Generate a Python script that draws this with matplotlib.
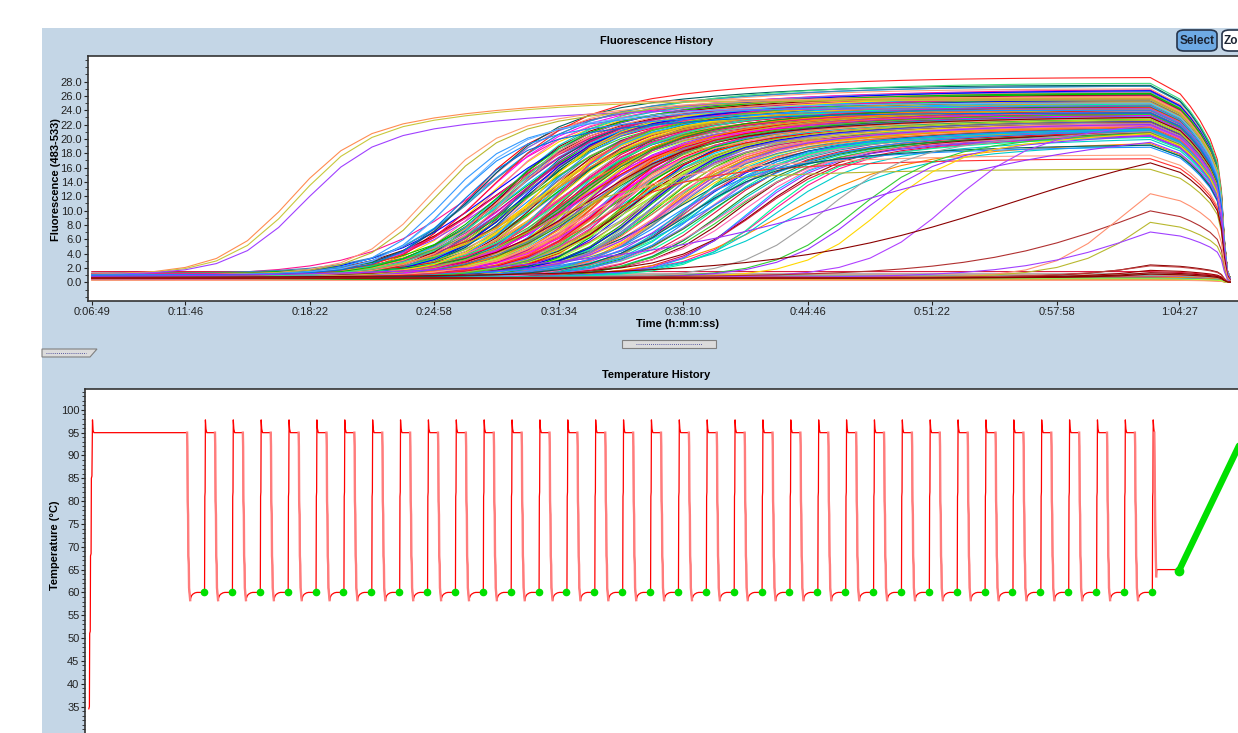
import numpy as np
import matplotlib.pyplot as plt
from matplotlib.patches import Rectangle, FancyBboxPatch, Polygon
from matplotlib.ticker import MultipleLocator, FormatStrFormatter

plt.rcParams['font.family'] = ['Liberation Sans', 'DejaVu Sans']

W, H = 1238, 733

# ---- acquisition timing (seconds) ----
n_cycles = 35
first_read = 409      # cycle 1 acquisition, 0:06:49
cycle_len = 99
tick_labels = ['0:06:49', '0:11:46', '0:18:22', '0:24:58', '0:31:34',
               '0:38:10', '0:44:46', '0:51:22', '0:57:58', '1:04:27']
melt_times = [3870, 3902, 3933, 3965, 3988, 4001, 4010, 4020, 4029]
melt_factor = [0.92, 0.86, 0.79, 0.70, 0.60, 0.45, 0.22, 0.06, 0.02]

# ---- fluorescence wells: midpoint cycle / plateau ----
early_mid = [7.4, 7.6, 7.8, 11.8, 12.0, 12.3, 12.5, 12.6, 12.8]
early_plateau = [24.6, 24.4, 23.2, 24.8, 24.6, 23.6, 23.0, 24.0, 22.6]
early_color = ['#FF8C50', '#C8C83C', '#A040FF', '#FF9A70', '#B8B82E',
               '#3399FF', '#1E90FF', '#66B2FF', '#0070E0']

mid_cycle = [
    13.1, 14.6, 16.2, 15.0, 17.8, 13.7, 19.4, 16.8, 14.2, 18.3,
    15.5, 17.1, 13.4, 20.2, 16.0, 14.9, 18.8, 15.7, 21.0, 17.4,
    14.4, 16.5, 13.9, 19.1, 15.2, 17.9, 16.3, 20.7, 14.7, 18.0,
    15.9, 13.6, 17.3, 19.8, 16.7, 14.1, 21.6, 15.4, 18.6, 16.1,
    17.6, 14.8, 19.6, 15.1, 13.3, 16.9, 18.4, 22.3, 15.6, 17.0,
    14.3, 20.5, 16.4, 18.9, 15.8, 13.8, 17.5, 19.2, 16.6, 14.5,
    21.3, 15.3, 18.1, 16.8, 14.0, 19.9, 17.2, 15.0, 22.8, 16.2,
    18.5, 14.6, 17.7, 20.9, 15.7, 16.0, 13.5, 19.0, 17.9, 15.2,
    16.4, 18.7, 14.9, 21.9, 17.1, 15.5, 20.1, 16.9, 14.2, 18.2,
    23.2, 16.6, 15.4, 19.5, 17.4, 14.8, 18.0, 16.3, 20.4, 15.9,
    17.0, 13.2, 19.3, 15.6, 22.0, 16.5, 18.6, 14.4, 17.8, 21.2,
    15.8, 19.7, 16.1, 14.7, 18.4, 17.3, 23.6, 15.1, 16.8, 20.0,
    14.1, 17.6, 19.0, 15.3, 16.2, 21.5, 18.8, 14.9, 17.5, 16.7,
    22.6, 15.7, 18.3, 16.9, 14.6, 19.6, 17.2, 20.8, 15.4, 16.0,
    18.1, 16.4, 13.9, 17.7, 20.3, 15.9, 19.4, 16.6, 22.4, 17.0,
    15.3, 17.9, 14.0, 18.9, 16.3, 19.8, 15.0, 17.4, 20.6, 16.1,
    14.5, 18.5, 16.9, 13.6, 19.2, 17.1, 15.6, 21.4, 16.7, 18.0,
    14.8, 17.6, 19.9, 15.4, 16.5, 22.1, 18.2, 14.3, 17.3, 20.5,
    16.0, 15.1, 18.7, 13.4, 17.8, 19.0, 16.2, 21.0, 15.8, 18.4,
    14.7, 17.0, 20.2, 16.6, 15.5, 19.3, 17.5, 14.1, 18.8, 16.4,
    22.9, 15.2, 17.2, 19.6, 16.8, 14.4, 18.1, 20.8, 15.9, 17.7]
plateau = [
    25.6, 24.1, 22.8, 24.9, 21.7, 25.2, 20.9, 23.3, 24.6, 22.0,
    24.0, 23.5, 26.1, 21.3, 23.9, 25.0, 22.4, 24.4, 20.6, 22.9,
    25.3, 22.6, 24.8, 21.9, 24.2, 23.0, 23.7, 20.4, 23.6, 22.2,
    23.8, 25.8, 22.5, 21.0, 23.1, 24.7, 19.8, 24.5, 21.5, 22.7,
    23.4, 24.3, 21.2, 25.1, 26.4, 22.1, 22.9, 20.2, 23.9, 23.2,
    24.9, 20.8, 23.6, 21.6, 22.3, 25.5, 23.0, 21.8, 24.1, 24.3,
    20.5, 23.8, 22.0, 22.6, 25.9, 20.1, 22.7, 24.0, 19.6, 23.5,
    21.4, 25.0, 22.2, 20.7, 24.6, 23.3, 26.6, 21.1, 22.8, 24.4,
    23.7, 21.9, 24.2, 19.9, 22.4, 23.1, 21.0, 22.5, 25.4, 21.7,
    19.5, 23.9, 24.5, 20.9, 22.1, 25.2, 22.6, 23.4, 20.3, 24.8,
    22.7, 26.0, 21.3, 24.0, 20.0, 23.6, 21.2, 25.7, 22.3, 20.6,
    24.7, 21.5, 23.0, 25.3, 22.9, 21.8, 19.4, 24.1, 23.2, 20.8,
    25.5, 22.5, 21.4, 24.3, 23.8, 20.2, 22.0, 24.9, 21.6, 23.5,
    19.7, 24.2, 22.2, 23.3, 25.1, 21.1, 22.8, 20.4, 19.8, 24.6,
    21.9, 23.7, 26.3, 22.4, 20.5, 24.4, 21.3, 23.1, 20.0, 22.6,
    24.2, 22.5, 25.4, 21.8, 23.6, 21.2, 24.8, 22.9, 20.5, 23.8,
    25.1, 22.1, 23.4, 26.2, 21.5, 23.0, 24.5, 20.3, 23.2, 22.4,
    24.7, 22.8, 20.8, 24.0, 23.7, 19.9, 22.0, 25.6, 23.1, 21.0,
    24.3, 25.0, 21.7, 26.5, 22.6, 21.9, 24.1, 20.6, 23.9, 22.2,
    25.3, 23.3, 20.9, 23.5, 24.6, 21.4, 22.7, 25.8, 21.6, 23.0,
    19.6, 24.9, 23.8, 21.1, 22.5, 25.2, 22.3, 20.7, 24.4, 22.9]
slope_set = [1.15, 1.3, 1.45, 1.25, 1.6, 1.35, 1.2, 1.5, 1.4, 1.7, 1.3, 1.55, 1.8]
baseline_set = [0.5, 0.8, 0.6, 1.0, 0.4, 0.7, 0.9, 0.55, 1.1, 0.65, 0.75, 0.45,
                0.85, 1.2, 0.6]

# wells with a standout plateau (top red, light green, low olive/salmon ...)
accent_mid = [13.8, 14.5, 15.2, 16.5, 17.0, 19.5, 20.0]
accent_plateau = [27.9, 27.1, 15.1, 17.1, 16.6, 18.3, 18.6]
accent_color = ['#FF2020', '#40E080', '#B8B82E', '#FFA080', '#FF3030',
                '#1E90FF', '#006060']

# late / slow wells
late_mid = [24.5, 25.5, 25.7, 26.3, 28.5, 25.5, 30.5, 35.0, 34.0, 35.2, 35.0,
            38.0, 38.5, 39.0, 37.8, 39.5]
late_plateau = [21.0, 21.0, 20.6, 21.0, 23.0, 22.0, 22.0, 20.0, 19.0, 19.0, 14.0,
                14.0, 12.0, 13.0, 10.0, 16.0]
late_slope = [1.3, 1.3, 1.3, 1.2, 1.3, 4.0, 3.5, 2.7, 1.1, 1.3, 2.0,
              1.6, 1.5, 1.4, 1.8, 1.3]
late_color = ['#A0A0A0', '#33CC33', '#9B30FF', '#FFD700', '#B040FF', '#9B30FF',
              '#8B0000', '#B03030', '#FF9070', '#B8B82E', '#A040FF',
              '#8B0000', '#A00000', '#8B0000', '#C04040', '#8B0000']

flat_levels = [0.35, 0.45, 0.5, 0.55, 0.6, 0.62, 0.7, 0.75, 0.8, 0.85, 0.9, 0.95,
               1.0, 1.05, 1.2, 1.5, 0.4, 0.65, 0.72, 0.58, 0.3, 0.5]

palette = ['#FF0000', '#00C000', '#0000FF', '#FF00FF', '#00CCCC', '#FFD700',
           '#FF8C00', '#9B30FF', '#8B0000', '#FF8C69', '#B8B82E', '#1E90FF',
           '#FF1493', '#32CD32', '#A0A0A0', '#006060', '#FFA07A', '#7B68EE',
           '#00FA9A', '#DC143C', '#00BFFF', '#ADFF2F', '#C71585', '#4682B4',
           '#FF6347', '#228B22', '#DAA520', '#FF69B4']

# ---- temperature profile ----
init_t = [0, 2, 3, 5, 6, 8, 9, 11, 13, 15, 18, 349]
init_temp = [34.5, 35, 51, 51.5, 68, 68.5, 85, 85.5, 97.8, 95.5, 95, 95]
cool_dt = [-60, -59, -58, -56.5, -55.5, -54, -53, -49]
cool_temp = [95, 92, 80, 77, 68, 66, 61, 58.3]
anneal_dt = [-49, -47, -44, -40, -32, -25, 0]
anneal_temp = [58.3, 58.8, 59.3, 59.6, 59.9, 60, 60]
heat_dt = [0, 2, 3, 4, 5, 7, 10, 39]
heat_temp = [60, 60.5, 81, 82, 97.8, 95.8, 95, 95]
final_dt = [0, 2, 3, 4, 5, 7, 9]
final_temp = [60, 60.5, 81, 82, 97.8, 96, 95]
final_cool_dt = [9, 10, 12, 14, 16]
final_cool_temp = [95, 88, 76, 68, 63.5]
final_hold_dt = [16, 18, 96]
final_hold_temp = [63.5, 65, 65]
ramp_t = [3871, 4110]
ramp_temp = [64.7, 95.4]


def amp_curve(c, mid, plat, slope, base):
    fast = 1 / (1 + np.exp(-(c - mid) / slope))
    slow = 1 / (1 + np.exp(-(c - mid - 5) / (2.5 * slope)))
    return base + plat * (0.82 * fast + 0.18 * slow)


fig = plt.figure(figsize=(W / 100, H / 100), dpi=100)
fig.patches.append(Rectangle((42 / W, 0), 1, 1 - 28 / H, transform=fig.transFigure,
                             facecolor='#C4D6E6', edgecolor='none', zorder=-5))

# ================= Fluorescence History =================
ax1 = fig.add_axes([87.7 / W, 1 - 301 / H, (1245 - 87.7) / W, (301 - 55.7) / H])
cycles = np.arange(1, n_cycles + 1)
read_times = first_read + cycle_len * (cycles - 1)
xs = np.concatenate([read_times, melt_times])
mf = np.array(melt_factor)


def draw_well(vals, color):
    full = np.concatenate([vals, vals[-1] * mf])
    ax1.plot(xs, full, color=color, lw=0.8, solid_joinstyle='miter')


for i, lvl in enumerate(flat_levels):
    draw_well(np.full(n_cycles, lvl), palette[(i * 5) % len(palette)])

for i in range(len(mid_cycle)):
    v = amp_curve(cycles, mid_cycle[i], plateau[i], slope_set[i % len(slope_set)],
                  baseline_set[i % len(baseline_set)])
    draw_well(v, palette[i % len(palette)])

for i in range(len(accent_mid)):
    v = amp_curve(cycles, accent_mid[i], accent_plateau[i], 1.4, 0.7)
    draw_well(v, accent_color[i])

for i in range(len(early_mid)):
    v = amp_curve(cycles, early_mid[i], early_plateau[i], 1.1, 1.0)
    draw_well(v, early_color[i])

for i in range(len(late_mid)):
    v = amp_curve(cycles, late_mid[i], late_plateau[i], late_slope[i], 0.6)
    draw_well(v, late_color[i])


def to_sec(s):
    h, m, sec = s.split(':')
    return int(h) * 3600 + int(m) * 60 + int(sec)


ax1.set_xlim(396, 4076)
ax1.set_ylim(-2.6, 31.6)
ax1.set_xticks([to_sec(s) for s in tick_labels])
ax1.set_xticklabels(tick_labels)
ax1.yaxis.set_minor_locator(MultipleLocator(1))
ax1.set_yticks([v for v in range(0, 29, 2)])
ax1.yaxis.set_major_formatter(FormatStrFormatter('%.1f'))
ax1.tick_params(axis='both', which='major', labelsize=8, length=3, pad=1,
                colors='#222222')
ax1.tick_params(axis='y', which='minor', length=2, color='#222222')
for sp in ax1.spines.values():
    sp.set_color('#333333')
    sp.set_linewidth(1.2)
ax1.spines['right'].set_visible(False)

fig.text(657 / W, 1 - 41 / H, 'Fluorescence History', ha='center', va='center',
         fontsize=8, fontweight='bold')
fig.text(677 / W, 1 - 324 / H, 'Time (h:mm:ss)', ha='center', va='center',
         fontsize=8, fontweight='bold')
fig.text(56 / W, 1 - 180 / H, 'Fluorescence (483-533)', ha='center', va='center',
         fontsize=8, fontweight='bold', rotation=90)

# ================= Temperature History =================
ax2 = fig.add_axes([85 / W, 0, (1245 - 85) / W, (733 - 389.3) / H])
t_all = list(init_t)
T_all = list(init_temp)
cool_segments = []
dots_t = []
for k in range(n_cycles):
    R = first_read + cycle_len * k
    ct = [R + d for d in cool_dt]
    cool_segments.append((ct, cool_temp))
    t_all += ct + [R + d for d in anneal_dt]
    T_all += list(cool_temp) + list(anneal_temp)
    dots_t.append(R)
    if k < n_cycles - 1:
        t_all += [R + d for d in heat_dt]
        T_all += list(heat_temp)
    else:
        t_all += [R + d for d in final_dt] + [R + d for d in final_cool_dt] + \
                 [R + d for d in final_hold_dt]
        T_all += list(final_temp) + list(final_cool_temp) + list(final_hold_temp)
        cool_segments.append(([R + d for d in final_cool_dt], final_cool_temp))

ax2.plot(t_all, T_all, color='#FF0000', lw=0.9, zorder=3)
for ct, cT in cool_segments:
    ax2.plot(ct, cT, color='#FF7C7C', lw=1.7, zorder=4)
ax2.plot(dots_t, [60] * len(dots_t), 'o', color='#00E000', ms=4.5, mec='#00E000',
         zorder=5)
ax2.plot(ramp_t, ramp_temp, color='#00E000', lw=4.6, solid_capstyle='round',
         zorder=5)
ax2.plot(ramp_t[:1], ramp_temp[:1], 'o', color='#00E000', ms=6, zorder=5)

ax2.set_xlim(-13.6, 4106)
ax2.set_ylim(29.2, 104.5)
ax2.set_xticks([])
ax2.yaxis.set_minor_locator(MultipleLocator(1))
ax2.set_yticks(range(35, 101, 5))
ax2.tick_params(axis='y', which='major', labelsize=8, length=3, pad=1,
                colors='#222222')
ax2.tick_params(axis='y', which='minor', length=2, color='#222222')
for sp in ax2.spines.values():
    sp.set_color('#333333')
    sp.set_linewidth(1.2)
ax2.spines['right'].set_visible(False)
ax2.spines['bottom'].set_visible(False)

fig.text(656 / W, 1 - 375 / H, 'Temperature History', ha='center', va='center',
         fontsize=8, fontweight='bold')
fig.text(55 / W, 1 - 545 / H, 'Temperature (°C)', ha='center', va='center',
         fontsize=8, fontweight='bold', rotation=90)

# ---- window chrome: buttons and splitters ----
fig.patches.append(FancyBboxPatch((1177 / W, 1 - 51 / H), 40 / W, 21 / H,
                                  boxstyle='round,pad=0,rounding_size=0.006',
                                  transform=fig.transFigure, facecolor='#6EAAE4',
                                  edgecolor='#26344A', lw=1.2, zorder=5))
fig.text(1197 / W, 1 - 40.5 / H, 'Select', ha='center', va='center', fontsize=8.5,
         fontweight='bold', color='#1A2230', zorder=6)
fig.patches.append(FancyBboxPatch((1222 / W, 1 - 51 / H), 30 / W, 21 / H,
                                  boxstyle='round,pad=0,rounding_size=0.006',
                                  transform=fig.transFigure, facecolor='white',
                                  edgecolor='#26344A', lw=1.2, zorder=5))
fig.text(1224 / W, 1 - 40.5 / H, 'Zo', ha='left', va='center', fontsize=8.5,
         fontweight='bold', color='#1A2230', zorder=6)

fig.patches.append(Rectangle((622 / W, 1 - 348 / H), 94 / W, 8 / H,
                             transform=fig.transFigure, facecolor='#DCDCDC',
                             edgecolor='#808080', lw=0.8, zorder=5))
fig.lines.append(plt.Line2D([636 / W, 702 / W], [1 - 344 / H] * 2,
                            transform=fig.transFigure, color='#303090', lw=0.6,
                            ls=(0, (1, 1.5)), zorder=6))
fig.patches.append(Polygon([(42 / W, 1 - 349 / H), (97 / W, 1 - 349 / H),
                            (90 / W, 1 - 357 / H), (42 / W, 1 - 357 / H)],
                           closed=True, transform=fig.transFigure,
                           facecolor='#DCDCDC', edgecolor='#808080', lw=0.8,
                           zorder=5))
fig.lines.append(plt.Line2D([46 / W, 86 / W], [1 - 353 / H] * 2,
                            transform=fig.transFigure, color='#303090', lw=0.6,
                            ls=(0, (1, 1.5)), zorder=6))

fig.savefig('out.png', dpi=100)
